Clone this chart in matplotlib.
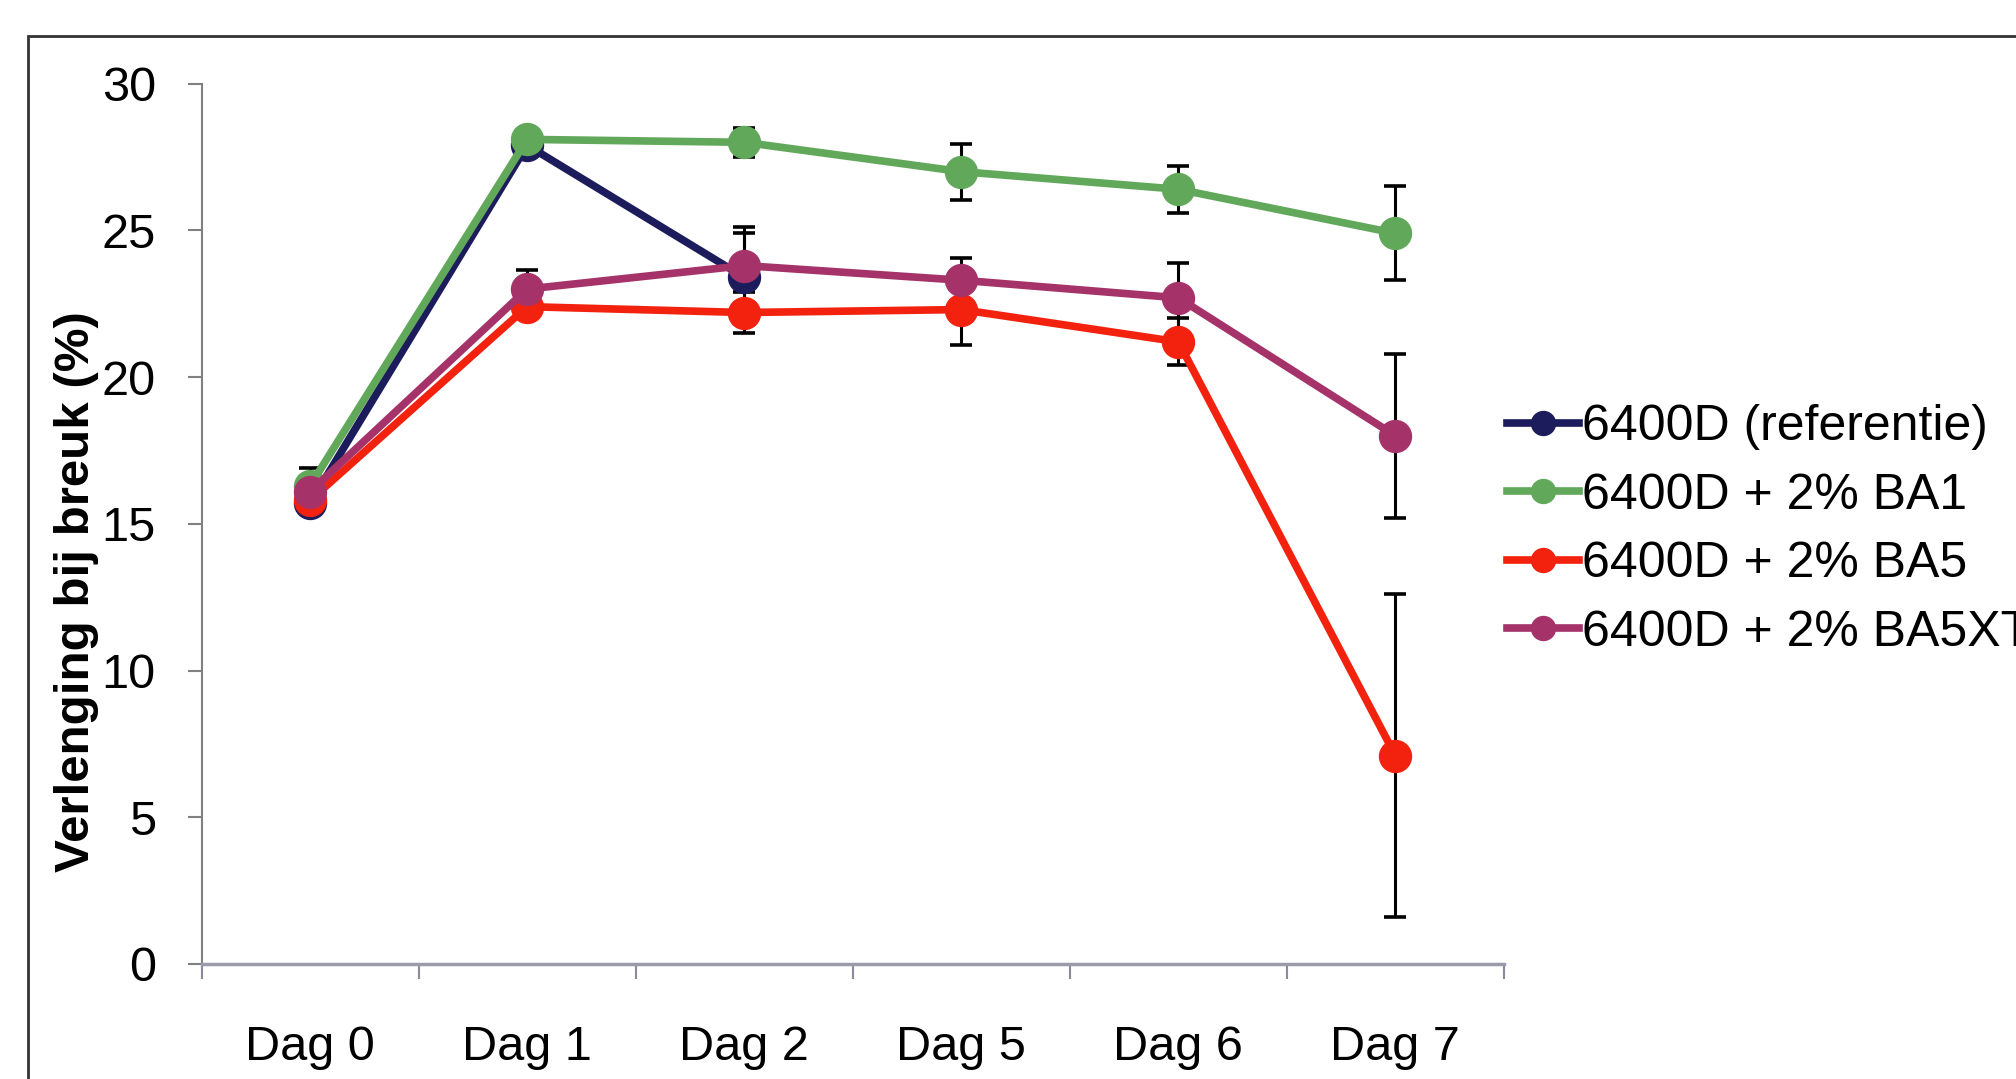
import numpy as np
import matplotlib
matplotlib.use('Agg')
import matplotlib.pyplot as plt
from matplotlib.patches import Rectangle

plt.rcParams['font.family'] = ['Liberation Sans', 'DejaVu Sans']

days = ['Dag 0', 'Dag 1', 'Dag 2', 'Dag 5', 'Dag 6', 'Dag 7']

ref = [15.7, 27.9, 23.4]
ref_err = [0.3, 0.3, 1.5]
ba1 = [16.3, 28.1, 28.0, 27.0, 26.4, 24.9]
ba1_err = [0.6, 0.3, 0.5, 0.95, 0.8, 1.6]
ba5 = [15.8, 22.4, 22.2, 22.3, 21.2, 7.1]
ba5_err = [0.4, 0.4, 0.7, 1.2, 0.8, 5.5]
ba5xt = [16.1, 23.0, 23.8, 23.3, 22.7, 18.0]
ba5xt_err = [0.5, 0.65, 1.3, 0.75, 1.2, 2.8]

labels = ['6400D (referentie)', '6400D + 2% BA1', '6400D + 2% BA5', '6400D + 2% BA5XT']
colors = ['#1c1c5c', '#62a85a', '#f2220f', '#a5336a']

fig = plt.figure(figsize=(20.16, 10.79), dpi=100)
ax = fig.add_axes([0.100, 0.1066, 0.646, 0.8159])

x = np.arange(len(days)) + 0.5
series = [(ref, ref_err), (ba1, ba1_err), (ba5, ba5_err), (ba5xt, ba5xt_err)]
for (vals, err), lab, col in zip(series, labels, colors):
    xs = x[:len(vals)]
    ax.errorbar(xs, vals, yerr=err, fmt='none', ecolor='black', elinewidth=2.2,
                capsize=8, capthick=2.6, zorder=1)
    ax.plot(xs, vals, '-o', color=col, lw=5.5, markersize=23, label=lab, zorder=2)

ax.set_xlim(0, 6)
ax.set_ylim(0, 30)
ax.set_yticks([0, 5, 10, 15, 20, 25, 30])
ax.set_xticks(np.arange(7))
ax.set_xticklabels([])
ax.set_xticks(x, minor=True)
ax.set_xticklabels(days, minor=True, fontsize=35)
ax.tick_params(axis='x', which='minor', length=0, pad=44)
ax.tick_params(axis='x', which='major', length=11, width=1.5, color='#8a8a9a', direction='out')
ax.tick_params(axis='y', length=10, width=1.5, color='#808080', pad=23, labelsize=35)

for s in ['top', 'right']:
    ax.spines[s].set_visible(False)
ax.spines['left'].set_color('#808080')
ax.spines['left'].set_linewidth(1.5)
ax.spines['bottom'].set_color('#9a9aaa')
ax.spines['bottom'].set_linewidth(2.5)

# label sits over the tick numbers, like in the original
ax.set_ylabel('Verlenging bij breuk (%)', fontsize=35.5, fontweight='bold')
ax.yaxis.set_label_coords(-0.079, 0.423)

ax.legend(loc='center left', bbox_to_anchor=(0.7475, 0.509), bbox_transform=fig.transFigure,
          frameon=False, fontsize=36, handlelength=1.45, handletextpad=0.05,
          labelspacing=0.45, borderpad=0, borderaxespad=0, markerscale=0.75)

fig.add_artist(Rectangle((0.0139, -0.1), 1.2, 0.9666 + 0.1, transform=fig.transFigure,
                         fill=False, edgecolor='#333333', lw=2, clip_on=False))

fig.savefig('out.png', dpi=100)
